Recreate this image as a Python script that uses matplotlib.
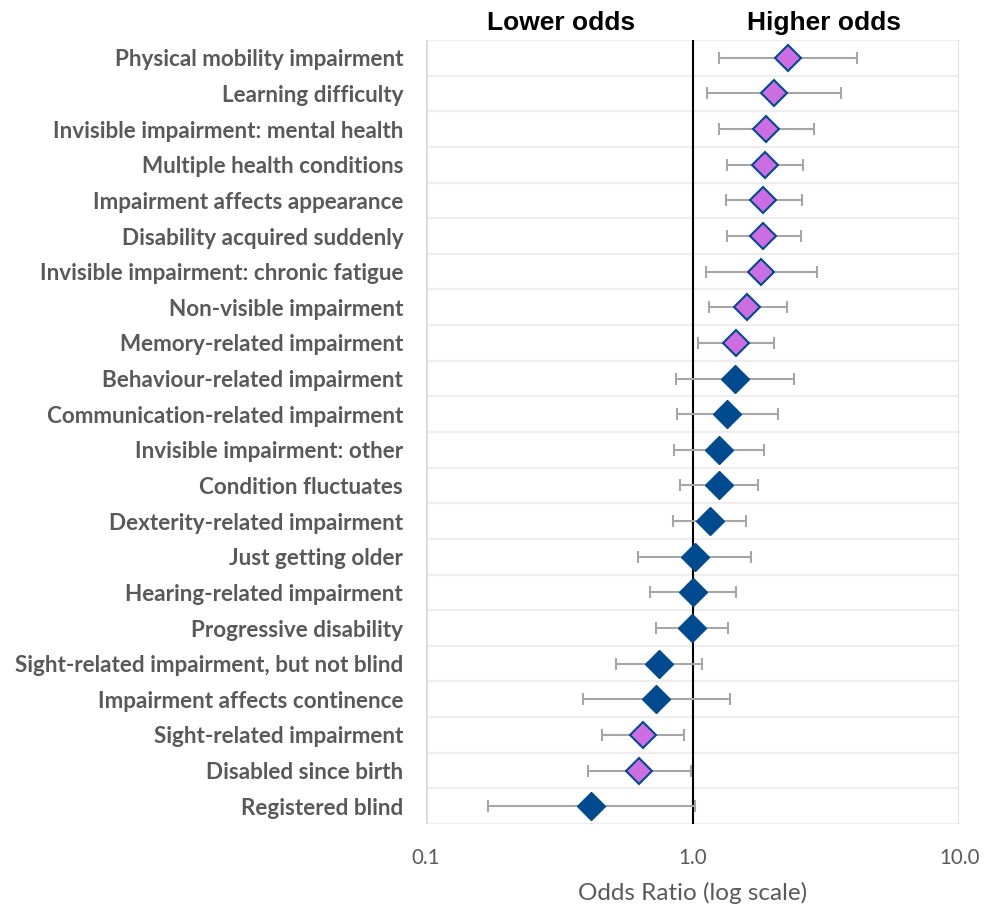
import matplotlib
matplotlib.use("Agg")
import matplotlib.pyplot as plt
import numpy as np

labels = [
    "Physical mobility impairment",
    "Learning difficulty",
    "Invisible impairment: mental health",
    "Multiple health conditions",
    "Impairment affects appearance",
    "Disability acquired suddenly",
    "Invisible impairment: chronic fatigue",
    "Non-visible impairment",
    "Memory-related impairment",
    "Behaviour-related impairment",
    "Communication-related impairment",
    "Invisible impairment: other",
    "Condition fluctuates",
    "Dexterity-related impairment",
    "Just getting older",
    "Hearing-related impairment",
    "Progressive disability",
    "Sight-related impairment, but not blind",
    "Impairment affects continence",
    "Sight-related impairment",
    "Disabled since birth",
    "Registered blind",
]
odds = [2.28, 2.02, 1.88, 1.86, 1.84, 1.84, 1.80, 1.60, 1.45, 1.44, 1.35,
        1.26, 1.26, 1.16, 1.02, 1.00, 0.99, 0.746, 0.73, 0.652, 0.63, 0.416]
ci_low = [1.25, 1.13, 1.25, 1.35, 1.33, 1.35, 1.12, 1.15, 1.05, 0.868, 0.87,
          0.85, 0.894, 0.844, 0.626, 0.69, 0.727, 0.517, 0.387, 0.458, 0.405, 0.171]
ci_high = [4.15, 3.59, 2.85, 2.60, 2.56, 2.54, 2.92, 2.25, 2.02, 2.40, 2.09,
           1.85, 1.76, 1.58, 1.65, 1.45, 1.36, 1.08, 1.38, 0.928, 0.985, 1.016]
# significant results are highlighted in purple
significant = [True] * 9 + [False] * 10 + [True, True, False]

label_color = "#595959"
purple = "#CC6DE2"
navy = "#004A8F"

fig = plt.figure(figsize=(9.91, 9.10), dpi=100)
ax = fig.add_axes([0.430, 0.0945, 0.538, 0.8615])

y = np.arange(len(labels))
odds = np.array(odds)
lo = odds - np.array(ci_low)
hi = np.array(ci_high) - odds

# row separators
for b in np.arange(-0.5, len(labels) + 0.5, 1.0):
    ax.axhline(b, color="#EEEEEE", lw=1.6, zorder=0)
ax.axvline(0.1, color="#D9D9D9", lw=1.8, zorder=0)
ax.axvline(10, color="#D9D9D9", lw=1.8, zorder=0)
ax.axvline(1.0, color="black", lw=1.5, zorder=1)

ax.errorbar(odds, y, xerr=[lo, hi], fmt="none", ecolor="#A6A6A6",
            elinewidth=1.5, capsize=4.5, capthick=1.5, zorder=2)

for i in range(len(labels)):
    if significant[i]:
        ax.plot(odds[i], y[i], marker="D", ms=13.5, mfc=purple, mec=navy,
                mew=1.5, ls="none", zorder=3)
    else:
        ax.plot(odds[i], y[i], marker="D", ms=14, mfc=navy, mec=navy,
                mew=1.0, ls="none", zorder=3)

ax.set_xscale("log")
ax.set_xlim(0.1, 10)
ax.set_ylim(len(labels) - 0.5, -0.5)
ax.set_xticks([0.1, 1.0, 10.0])
ax.set_xticklabels(["0.1", "1.0", "10.0"], fontsize=14.8, color=label_color,
                   family="Lato")
ax.minorticks_off()
ax.set_yticks(y)
ax.set_yticklabels(labels, fontsize=16.2, color=label_color, family="Lato",
                   fontweight="bold")
ax.tick_params(axis="both", length=0)
ax.tick_params(axis="y", pad=16.5)
ax.tick_params(axis="x", pad=17)
for s in ax.spines.values():
    s.set_visible(False)

ax.set_xlabel("Odds Ratio (log scale)", fontsize=17.5, color=label_color,
              family="Lato", labelpad=10)

ax.text(0.32, -0.97, "Lower odds", ha="center", va="center", fontsize=19,
        fontweight="bold", family="Liberation Sans", color="black")
ax.text(3.1, -0.97, "Higher odds", ha="center", va="center", fontsize=19,
        fontweight="bold", family="Liberation Sans", color="black")

fig.savefig("out.png", dpi=100)
